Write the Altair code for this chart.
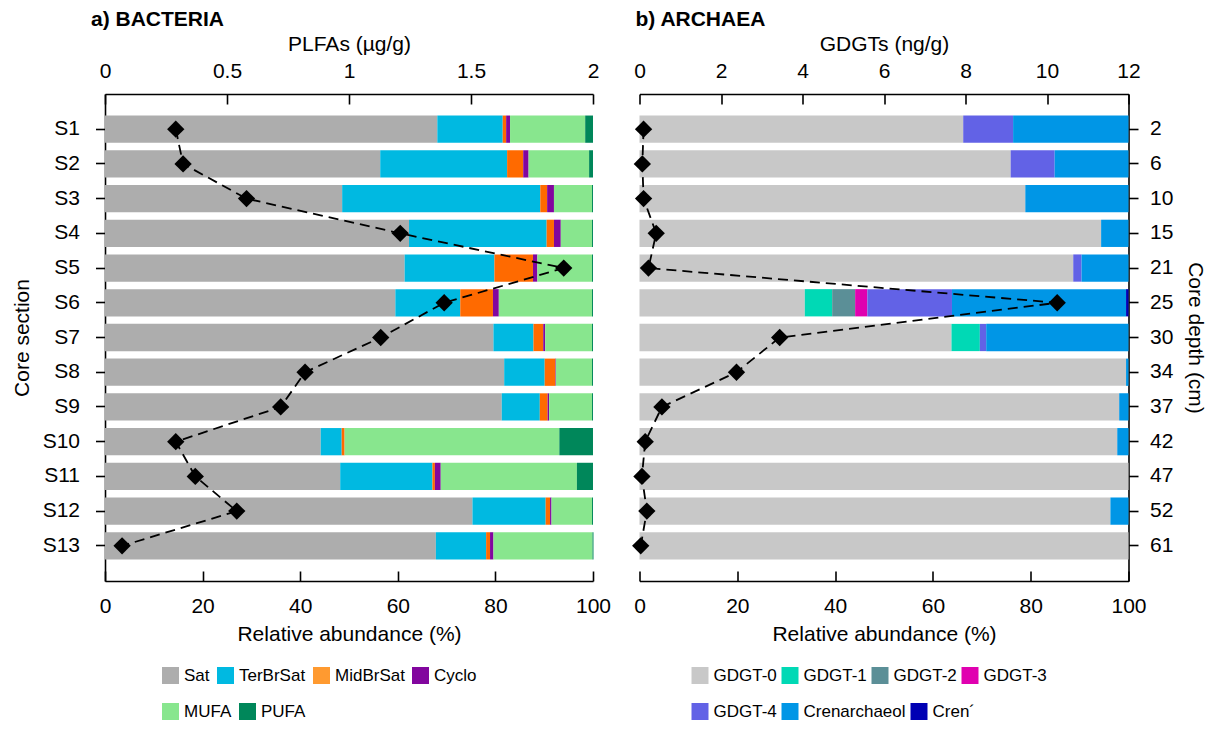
import altair as alt
import pandas as pd

FONT = "Liberation Sans, Arial, sans-serif"

# ---------------- data ----------------
sections = ["S1", "S2", "S3", "S4", "S5", "S6", "S7", "S8", "S9", "S10", "S11", "S12", "S13"]
depths = ["2", "6", "10", "15", "21", "25", "30", "34", "37", "42", "47", "52", "61"]

bact_comps = ["Sat", "TerBrSat", "MidBrSat", "Cyclo", "MUFA", "PUFA"]
bact_colors = ["#adadad", "#00b9e1", "#ff6a00", "#82069e", "#88e68e", "#00875a"]
bact_legend_colors = ["#adadad", "#00b9e1", "#ff9a30", "#82069e", "#88e68e", "#00875a"]
sat = [68.1, 56.4, 48.6, 62.3, 61.4, 59.5, 79.6, 81.8, 81.3, 44.2, 48.2, 75.3, 67.8]
terbrsat = [13.4, 26.0, 40.6, 28.2, 18.4, 13.3, 8.2, 8.3, 7.8, 4.3, 18.9, 15.0, 10.3]
midbrsat = [0.7, 3.3, 1.4, 1.5, 7.9, 6.7, 2.0, 2.2, 1.6, 0.6, 0.5, 0.9, 0.8]
cyclo = [0.8, 1.1, 1.4, 1.4, 0.9, 1.2, 0.4, 0.1, 0.3, 0.0, 1.2, 0.3, 0.7]
mufa = [15.4, 12.4, 7.8, 6.4, 11.2, 19.1, 9.6, 7.4, 8.8, 44.0, 27.9, 8.3, 20.3]
pufa = [1.6, 0.8, 0.2, 0.2, 0.2, 0.2, 0.2, 0.2, 0.2, 6.9, 3.3, 0.2, 0.2]
plfa = [0.29, 0.32, 0.58, 1.21, 1.88, 1.39, 1.13, 0.82, 0.72, 0.29, 0.37, 0.54, 0.07]

arch_comps = ["GDGT-0", "GDGT-1", "GDGT-2", "GDGT-3", "GDGT-4", "Crenarchaeol", "Cren´"]
arch_colors = ["#c8c8c8", "#00d9b5", "#5b8f97", "#e000b0", "#6262e6", "#0096e6", "#0000b4"]
gdgt0 = [66.2, 75.9, 78.9, 94.4, 88.7, 33.8, 63.8, 99.5, 98.1, 97.7, 100.0, 96.3, 100.0]
gdgt1 = [0, 0, 0, 0, 0, 5.6, 5.8, 0, 0, 0, 0, 0, 0]
gdgt2 = [0, 0, 0, 0, 0, 4.7, 0, 0, 0, 0, 0, 0, 0]
gdgt3 = [0, 0, 0, 0, 0, 2.5, 0, 0, 0, 0, 0, 0, 0]
gdgt4 = [10.2, 9.0, 0, 0, 1.7, 17.3, 1.3, 0, 0, 0, 0, 0, 0]
cren = [23.6, 15.1, 21.1, 5.6, 9.6, 35.6, 29.1, 0.5, 1.9, 2.3, 0, 3.7, 0]
crenp = [0, 0, 0, 0, 0, 0.5, 0, 0, 0, 0, 0, 0, 0]
gdgts = [0.10, 0.07, 0.10, 0.41, 0.22, 10.25, 3.44, 2.38, 0.55, 0.14, 0.06, 0.18, 0.03]

plfa_ticks = [0, 0.5, 1, 1.5, 2]
gdgt_ticks = [0, 2, 4, 6, 8, 10, 12]
rel_ticks = [0, 20, 40, 60, 80, 100]

# legend rows (as in the figure)
bact_rows = [4, 2]
arch_rows = [4, 3]


def long_df(labels, comps, series):
    rows = []
    for ci, (c, vals) in enumerate(zip(comps, series)):
        for i, v in enumerate(vals):
            if v > 0:
                rows.append({"row": labels[i], "comp": c, "ci": ci, "value": v})
    return pd.DataFrame(rows)


bact_df = long_df(sections, bact_comps, [sat, terbrsat, midbrsat, cyclo, mufa, pufa])
arch_df = long_df(depths, arch_comps, [gdgt0, gdgt1, gdgt2, gdgt3, gdgt4, cren, crenp])
plfa_df = pd.DataFrame({"row": sections, "amt": plfa, "idx": list(range(13))})
gdgt_df = pd.DataFrame({"row": depths, "amt": gdgts, "idx": list(range(13))})

H = 487
TICK = 10
LEG_Y = [573, 609]


def legend_layers(bdf, comps, colors, rows, leg_x, col_pad):
    layers = []
    start = 0
    for r, n in enumerate(rows):
        dom = comps[start:start + n]
        rng = colors[start:start + n]
        start += n
        layers.append(
            alt.Chart(bdf).transform_filter("false").mark_square(filled=True, opacity=1).encode(
                color=alt.Color(
                    "comp:N", scale=alt.Scale(domain=dom, range=rng),
                    legend=alt.Legend(orient="none", legendX=leg_x, legendY=LEG_Y[r],
                                      direction="horizontal", title=None, symbolType="square",
                                      symbolSize=289, symbolStrokeWidth=0, symbolOpacity=1,
                                      labelFontSize=17, labelOffset=5, columnPadding=col_pad,
                                      padding=0, labelFont=FONT, labelColor="black"),
                )
            )
        )
    return layers


def panel(bdf, ldf, labels, comps, colors, leg_colors, rows, top_max, top_ticks, top_fmt,
          top_title, title, title_dx, y_orient, y_title, y_label_pad, y_title_pad, legend_x,
          col_pad, width):
    yenc = alt.Y(
        "row:N", sort=labels,
        scale=alt.Scale(paddingInner=0.215, paddingOuter=0.62),
        axis=alt.Axis(orient=y_orient, title=y_title, tickSize=9.5, labelPadding=y_label_pad,
                      titlePadding=y_title_pad, domain=True, grid=False),
    )
    bars = alt.Chart(bdf).mark_bar().encode(
        x=alt.X("value:Q", stack="zero",
                scale=alt.Scale(domain=[0, 100], nice=False),
                axis=alt.Axis(orient="bottom", values=rel_ticks, ticks=False, tickSize=0,
                              labelPadding=14, title="Relative abundance (%)", titlePadding=7,
                              grid=False, labelFlush=False)),
        y=yenc,
        color=alt.Color("comp:N", scale=alt.Scale(domain=comps, range=colors), legend=None),
        order=alt.Order("ci:Q", sort="ascending"),
    )
    bottom_ticks = alt.Chart(bdf).mark_point(opacity=0).encode(
        x=alt.X("value:Q", scale=alt.Scale(domain=[0, 100], nice=False),
                axis=alt.Axis(orient="bottom", values=rel_ticks, offset=-TICK, tickSize=TICK,
                              labels=False, domain=False, title=None, grid=False)),
    )
    line = alt.Chart(ldf).mark_line(
        color="black", strokeDash=[10, 6], strokeWidth=1.8,
        point=alt.OverlayMarkDef(shape="diamond", size=300, filled=True, color="black", opacity=1),
    ).encode(
        x=alt.X("amt:Q", scale=alt.Scale(domain=[0, top_max], nice=False),
                axis=alt.Axis(orient="top", values=top_ticks, format=top_fmt, ticks=False,
                              tickSize=0, labelPadding=13, title=top_title, titlePadding=6,
                              grid=False, labelFlush=False)),
        y=yenc,
        order=alt.Order("idx:Q"),
    )
    top_ticks_layer = alt.Chart(ldf).mark_point(opacity=0).encode(
        x=alt.X("amt:Q", scale=alt.Scale(domain=[0, top_max], nice=False),
                axis=alt.Axis(orient="top", values=top_ticks, offset=-TICK, tickSize=TICK,
                              labels=False, domain=False, title=None, grid=False)),
    )
    legs = legend_layers(bdf, comps, leg_colors, rows, legend_x, col_pad)
    return alt.layer(bars, bottom_ticks, line, top_ticks_layer, *legs).resolve_scale(
        x="independent", color="independent"
    ).properties(
        width=width, height=H,
        title=alt.TitleParams(title, anchor="start", frame="group", dx=title_dx,
                              fontSize=21, fontWeight="bold", font=FONT, color="black",
                              offset=3),
    )


left = panel(bact_df, plfa_df, sections, bact_comps, bact_colors, bact_legend_colors, bact_rows,
             2, plfa_ticks, "~g", "PLFAs (µg/g)", "a) BACTERIA", -14, "left", "Core section",
             16, 10, 57, 7, 488)
right = panel(arch_df, gdgt_df, depths, arch_comps, arch_colors, arch_colors, arch_rows,
              12, gdgt_ticks, "d", "GDGTs (ng/g)", "b) ARCHAEA", -4, "right", "Core depth (cm)",
              11.5, 12, 52, 4, 489)

chart = alt.hconcat(left, right, spacing=46.5, bounds="flush").resolve_scale(
    color="independent", y="independent"
).properties(
    padding={"left": 2, "top": 0, "right": 0, "bottom": 0}
).configure_view(
    stroke="transparent"
).configure_axis(
    labelFont=FONT, titleFont=FONT, labelFontSize=21, titleFontSize=21,
    titleFontWeight="normal", labelColor="black", titleColor="black",
    domainColor="black", tickColor="black", domainWidth=1.6, tickWidth=1.6,
    labelOverlap=False,
).configure_legend(
    labelFont=FONT, labelColor="black",
)

chart.save("out.html", embed_options={"renderer": "svg", "actions": False})
